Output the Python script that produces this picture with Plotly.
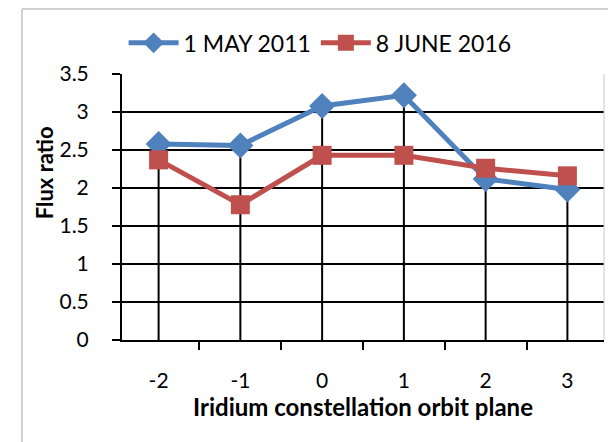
import plotly.graph_objects as go

planes = ["-2", "-1", "0", "1", "2", "3"]
may_2011 = [2.58, 2.56, 3.08, 3.22, 2.12, 1.98]
june_2016 = [2.37, 1.78, 2.43, 2.43, 2.26, 2.16]

BLUE = "#4F81BD"
RED = "#C0504D"
FONT = "Lato, 'Open Sans', sans-serif"

drop_top = [max(a, b) for a, b in zip(may_2011, june_2016)]

fig = go.Figure()
# Excel-style drop lines from the highest point down to the axis
fig.add_trace(
    go.Scatter(
        x=planes,
        y=drop_top,
        mode="markers",
        marker=dict(size=1, color="black"),
        error_y=dict(
            type="data",
            symmetric=False,
            array=[0] * len(drop_top),
            arrayminus=drop_top,
            color="black",
            thickness=2,
            width=0,
        ),
        showlegend=False,
        hoverinfo="skip",
    )
)
fig.add_trace(
    go.Scatter(
        x=planes,
        y=may_2011,
        mode="lines+markers",
        name="1 MAY 2011",
        line=dict(color=BLUE, width=5),
        marker=dict(symbol="diamond", size=20, color=BLUE),
    )
)
fig.add_trace(
    go.Scatter(
        x=planes,
        y=june_2016,
        mode="lines+markers",
        name="8 JUNE 2016",
        line=dict(color=RED, width=5),
        marker=dict(symbol="square", size=19, color=RED),
    )
)

fig.update_layout(
    width=616,
    height=442,
    margin=dict(l=114, r=20, t=66, b=110),
    paper_bgcolor="white",
    plot_bgcolor="white",
    font=dict(family=FONT, size=21, color="black"),
    legend=dict(
        orientation="h",
        x=0.411,
        xanchor="center",
        y=1.117,
        yanchor="middle",
        font=dict(size=23),
        itemwidth=50,
    ),
    annotations=[
        dict(text="<b>Flux ratio</b>", xref="paper", yref="paper", x=-0.16, y=0.63,
             xanchor="center", yanchor="middle",
             textangle=-90, showarrow=False, font=dict(size=22)),
    ],
    shapes=[
        dict(type="line", xref="paper", yref="paper", x0=-0.2075, x1=1.1, y0=1.244, y1=1.244,
             line=dict(color="#D0D0D0", width=2)),
        dict(type="line", xref="paper", yref="paper", x0=-0.2075, x1=-0.2075, y0=-0.5, y1=1.244,
             line=dict(color="#D0D0D0", width=2)),
        dict(type="line", xref="paper", yref="paper", x0=1, x1=1, y0=0, y1=1,
             line=dict(color="#C8C8C8", width=1)),
    ],
)

fig.update_xaxes(
    type="category",
    tickson="boundaries",
    ticks="outside",
    ticklen=8,
    tickwidth=2,
    tickcolor="black",
    ticklabelstandoff=21,
    showline=True,
    linecolor="black",
    linewidth=2,
    showgrid=False,
    tickfont=dict(size=21),
    title=dict(text="<b>Iridium constellation orbit plane</b>", font=dict(size=24), standoff=2),
)
fig.update_yaxes(
    range=[0, 3.5],
    dtick=0.5,
    ticks="outside",
    ticklen=8,
    tickwidth=2,
    tickcolor="black",
    ticklabelstandoff=19,
    showline=True,
    linecolor="black",
    linewidth=2,
    showgrid=True,
    gridcolor="black",
    gridwidth=2,
    zeroline=False,
    tickfont=dict(size=21),
)

fig.write_html("out.html")
